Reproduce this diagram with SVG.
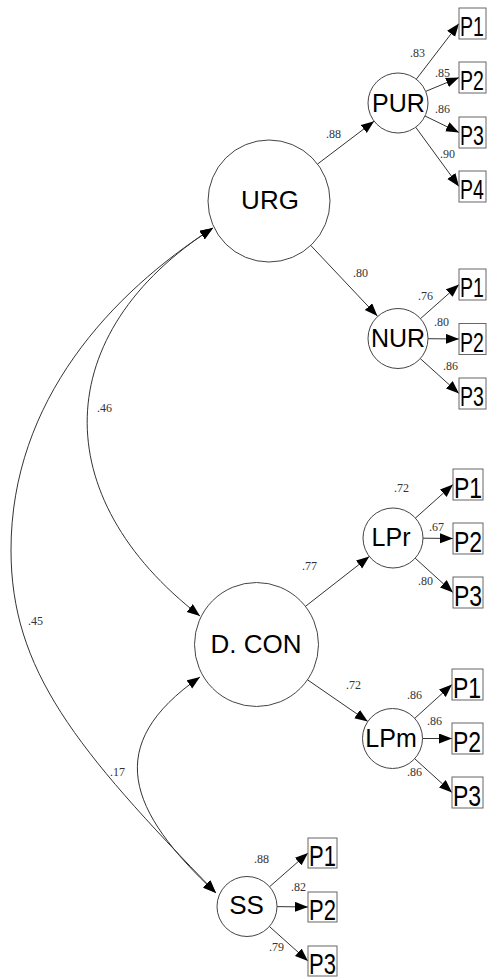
<svg xmlns="http://www.w3.org/2000/svg" width="487" height="978" viewBox="0 0 487 978">
<style>
.bg{fill:#fff}
.lat{fill:#fff;stroke:#444;stroke-width:1}
.obs{fill:#fff;stroke:#666;stroke-width:1}
.ln{fill:none;stroke:#333;stroke-width:1}
.nl{font-family:"Liberation Sans",Arial,sans-serif;fill:#000;text-anchor:middle}
.bl{font-family:"Liberation Sans",Arial,sans-serif;fill:#000;font-size:23px}
.bs{font-family:"Liberation Sans",Arial,sans-serif;fill:#000;font-size:22px}
.bt{font-family:"Liberation Sans",Arial,sans-serif;fill:#000;font-size:19.5px}
.w{font-family:"Liberation Serif","Times New Roman",serif;font-size:12px;fill:#333}
</style>
<defs>
<marker id="ah" markerUnits="userSpaceOnUse" markerWidth="15" markerHeight="11" refX="13" refY="5" orient="auto-start-reverse">
<path d="M0,0 L13,5 L0,10 z" fill="#000"/>
</marker>
</defs>
<rect class="bg" x="0" y="0" width="487" height="978"/>
<g id="connectors">
<path class="ln" marker-end="url(#ah)" d="M317.6,164 L374.1,121.2"/>
<path class="ln" marker-end="url(#ah)" d="M310.8,245.5 L377.4,316.1"/>
<path class="ln" marker-end="url(#ah)" d="M305.4,606.4 L369.3,556.5"/>
<path class="ln" marker-end="url(#ah)" d="M307.5,679.8 L367.8,721.4"/>
<path class="ln" marker-end="url(#ah)" d="M416.3,79.2 L459,23.5"/>
<path class="ln" marker-end="url(#ah)" d="M425.7,91.4 L459,77.5"/>
<path class="ln" marker-end="url(#ah)" d="M425,116 L459,132.5"/>
<path class="ln" marker-end="url(#ah)" d="M415.7,127.2 L459,186.5"/>
<path class="ln" marker-end="url(#ah)" d="M420.5,318.6 L459,284.5"/>
<path class="ln" marker-end="url(#ah)" d="M428,338.7 L459,339"/>
<path class="ln" marker-end="url(#ah)" d="M420.3,358.6 L459,393.5"/>
<path class="ln" marker-end="url(#ah)" d="M415.4,518.1 L453,484.5"/>
<path class="ln" marker-end="url(#ah)" d="M423,538.2 L453,538.5"/>
<path class="ln" marker-end="url(#ah)" d="M415.2,558.2 L453,592.5"/>
<path class="ln" marker-end="url(#ah)" d="M414.7,718.4 L452,684.5"/>
<path class="ln" marker-end="url(#ah)" d="M422.5,738.5 L452,738.5"/>
<path class="ln" marker-end="url(#ah)" d="M414.7,758.7 L452,792.5"/>
<path class="ln" marker-end="url(#ah)" d="M269.6,886.7 L308,853"/>
<path class="ln" marker-end="url(#ah)" d="M277,906.6 L308,907"/>
<path class="ln" marker-end="url(#ah)" d="M269.4,926.5 L308,961"/>
<path class="ln" marker-start="url(#ah)" marker-end="url(#ah)" d="M213,228 C49,333 46,497 200,616"/>
<path class="ln" marker-start="url(#ah)" marker-end="url(#ah)" d="M213,228 C112,293 11,400 11,550 C11,670 76,749 216,893"/>
<path class="ln" marker-start="url(#ah)" marker-end="url(#ah)" d="M200,677 C102,745 128,811 216,893"/>
</g>
<g id="labels">
<text class="w" x="326" y="138">.88</text>
<text class="w" x="410" y="57">.83</text>
<text class="w" x="435" y="77">.85</text>
<text class="w" x="435" y="113">.86</text>
<text class="w" x="440" y="158">.90</text>
<text class="w" x="353" y="277">.80</text>
<text class="w" x="418" y="300">.76</text>
<text class="w" x="434" y="326">.80</text>
<text class="w" x="443" y="370">.86</text>
<text class="w" x="394" y="492">.72</text>
<text class="w" x="429" y="531">.67</text>
<text class="w" x="418" y="585">.80</text>
<text class="w" x="302" y="570">.77</text>
<text class="w" x="346" y="689">.72</text>
<text class="w" x="407" y="699">.86</text>
<text class="w" x="427" y="725">.86</text>
<text class="w" x="407" y="776">.86</text>
<text class="w" x="254" y="863">.88</text>
<text class="w" x="291" y="891">.82</text>
<text class="w" x="269" y="951">.79</text>
<text class="w" x="97" y="412">.46</text>
<text class="w" x="28" y="625">.45</text>
<text class="w" x="110" y="776">.17</text>
</g>
<g id="URG"><circle class="lat" cx="269" cy="201" r="61"/><text class="nl" x="270" y="209" font-size="26">URG</text></g>
<g id="DCON"><circle class="lat" cx="256.5" cy="644.5" r="62"/><text class="nl" x="256" y="653" font-size="26">D. CON</text></g>
<g id="PUR"><circle class="lat" cx="398" cy="103" r="30"/><text class="nl" x="398.5" y="112" font-size="25">PUR</text></g>
<g id="NUR"><circle class="lat" cx="398" cy="338.5" r="30"/><text class="nl" x="398" y="347" font-size="25">NUR</text></g>
<g id="LPr"><circle class="lat" cx="393" cy="538" r="30"/><text class="nl" x="391" y="546" font-size="25">LPr</text></g>
<g id="LPm"><circle class="lat" cx="392.5" cy="738.5" r="30"/><text class="nl" x="391" y="747" font-size="25">LPm</text></g>
<g id="SS"><circle class="lat" cx="247" cy="906.5" r="30"/><text class="nl" x="246.5" y="914" font-size="26">SS</text></g>
<g id="PUR_P1"><rect class="obs" x="459" y="8" width="27" height="31"/><text class="bt" transform="translate(460,36) scale(1,1.38)">P1</text></g>
<g id="PUR_P2"><rect class="obs" x="459" y="62" width="27" height="31"/><text class="bt" transform="translate(460,90) scale(1,1.38)">P2</text></g>
<g id="PUR_P3"><rect class="obs" x="459" y="117" width="27" height="31"/><text class="bt" transform="translate(460,145) scale(1,1.38)">P3</text></g>
<g id="PUR_P4"><rect class="obs" x="459" y="171" width="27" height="31"/><text class="bt" transform="translate(460,199) scale(1,1.38)">P4</text></g>
<g id="NUR_P1"><rect class="obs" x="459" y="269" width="27" height="31"/><text class="bt" transform="translate(460,297) scale(1,1.38)">P1</text></g>
<g id="NUR_P2"><rect class="obs" x="459" y="323.5" width="27" height="31"/><text class="bt" transform="translate(460,351.5) scale(1,1.38)">P2</text></g>
<g id="NUR_P3"><rect class="obs" x="459" y="378" width="27" height="31"/><text class="bt" transform="translate(460,406) scale(1,1.38)">P3</text></g>
<g id="LPr_P1"><rect class="obs" x="453" y="469" width="30" height="31"/><text class="bl" transform="translate(454,498) scale(1,1.26)">P1</text></g>
<g id="LPr_P2"><rect class="obs" x="453" y="523" width="30" height="31"/><text class="bl" transform="translate(454,552) scale(1,1.26)">P2</text></g>
<g id="LPr_P3"><rect class="obs" x="453" y="577" width="30" height="31"/><text class="bl" transform="translate(454,606) scale(1,1.26)">P3</text></g>
<g id="LPm_P1"><rect class="obs" x="452" y="669" width="31" height="31"/><text class="bl" transform="translate(453,698) scale(1,1.26)">P1</text></g>
<g id="LPm_P2"><rect class="obs" x="452" y="723" width="31" height="31"/><text class="bl" transform="translate(453,752) scale(1,1.26)">P2</text></g>
<g id="LPm_P3"><rect class="obs" x="452" y="777" width="31" height="31"/><text class="bl" transform="translate(453,806) scale(1,1.26)">P3</text></g>
<g id="SS_P1"><rect class="obs" x="308" y="838" width="29" height="30"/><text class="bs" transform="translate(309,866) scale(1,1.3)">P1</text></g>
<g id="SS_P2"><rect class="obs" x="308" y="892" width="29" height="30"/><text class="bs" transform="translate(309,920) scale(1,1.3)">P2</text></g>
<g id="SS_P3"><rect class="obs" x="308" y="946" width="29" height="30"/><text class="bs" transform="translate(309,974) scale(1,1.3)">P3</text></g>
</svg>
